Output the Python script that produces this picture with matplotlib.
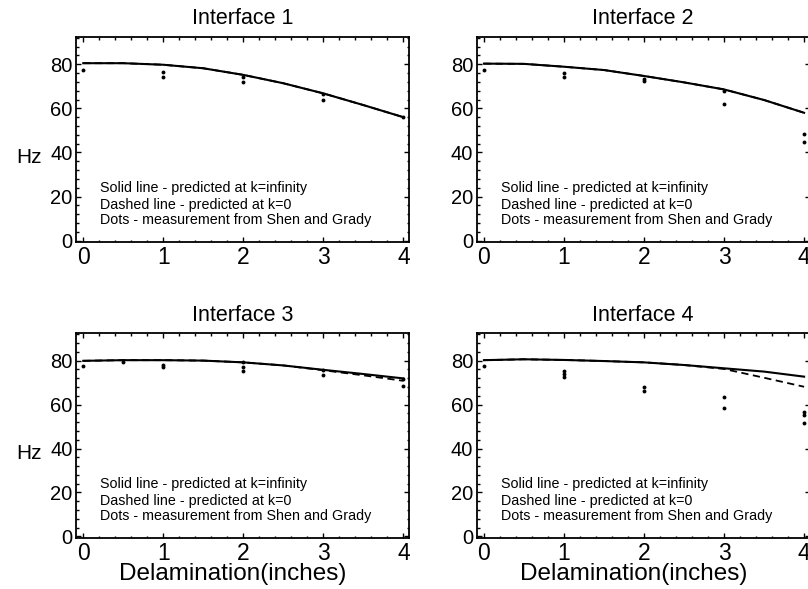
import matplotlib
matplotlib.use("Agg")
import matplotlib.pyplot as plt
from matplotlib.ticker import MultipleLocator

plt.rcParams['font.family'] = ['Liberation Sans', 'DejaVu Sans']

# delamination length (inches) where the model curves were evaluated
delam = [0, 0.5, 1, 1.5, 2, 2.5, 3, 3.5, 4]

# predicted frequency (Hz), k = infinity (solid) and k = 0 (dashed)
solid_1 = [80.5, 80.5, 79.8, 78.2, 75.2, 71.4, 66.8, 61.5, 56.0]
dashed_1 = [80.5, 80.5, 79.8, 78.2, 75.2, 71.4, 66.8, 61.5, 56.0]
solid_2 = [80.3, 80.2, 78.9, 77.4, 74.7, 71.8, 68.6, 63.8, 58.0]
dashed_2 = [80.3, 80.2, 78.9, 77.4, 74.7, 71.8, 68.6, 63.8, 58.0]
solid_3 = [79.9, 80.2, 80.2, 80.0, 79.2, 77.8, 75.8, 73.9, 71.9]
dashed_3 = [79.9, 80.2, 80.2, 80.0, 79.2, 77.8, 75.6, 73.3, 70.8]
solid_4 = [80.2, 80.6, 80.3, 79.8, 79.2, 78.0, 76.5, 75.0, 72.7]
dashed_4 = [80.2, 80.6, 80.3, 79.8, 79.2, 78.0, 76.2, 72.2, 68.1]

# measured frequencies (Shen and Grady)
meas_x_1 = [0, 1, 1, 2, 2, 3, 3, 4]
meas_y_1 = [77.4, 76.6, 74.4, 74.1, 71.8, 66.6, 64.0, 56.0]
meas_x_2 = [0, 1, 1, 2, 2, 3, 3, 4, 4]
meas_y_2 = [77.4, 76.2, 74.4, 73.5, 72.5, 68.0, 62.0, 48.5, 44.6]
meas_x_3 = [0, 0.5, 1, 1, 2, 2, 2, 3, 3, 4, 4]
meas_y_3 = [77.7, 79.2, 77.9, 77.2, 79.5, 77.2, 75.4, 75.7, 73.5, 71.5, 68.6]
meas_x_4 = [0, 1, 1, 1, 2, 2, 3, 3, 4, 4, 4]
meas_y_4 = [77.7, 75.4, 73.9, 72.7, 67.9, 66.3, 63.6, 58.3, 56.8, 55.3, 51.8]

titles = ["Interface 1", "Interface 2", "Interface 3", "Interface 4"]
notes = ["Solid line - predicted at k=infinity",
         "Dashed line - predicted at k=0",
         "Dots - measurement from Shen and Grady"]

panels = [
    (solid_1, dashed_1, meas_x_1, meas_y_1),
    (solid_2, dashed_2, meas_x_2, meas_y_2),
    (solid_3, dashed_3, meas_x_3, meas_y_3),
    (solid_4, dashed_4, meas_x_4, meas_y_4),
]

# axes boxes in figure fractions (right column runs off the page edge)
boxes = [
    [0.0941, 0.5896, 0.4121, 0.348],
    [0.5900, 0.5896, 0.4121, 0.348],
    [0.0941, 0.0874, 0.4121, 0.347],
    [0.5900, 0.0874, 0.4121, 0.347],
]

fig = plt.figure(figsize=(8.08, 5.89), dpi=100)

for i, (solid, dashed, mx, my) in enumerate(panels):
    ax = fig.add_axes(boxes[i])
    ax.plot(delam, dashed, color='black', lw=1.3, ls=(0, (4, 2.5)))
    ax.plot(delam, solid, color='black', lw=1.5)
    ax.plot(mx, my, 'o', color='black', ms=2.8, mew=0)

    ax.set_xlim(-0.09, 4.07)
    ax.set_ylim(-0.5, 92.5)
    ax.xaxis.set_major_locator(MultipleLocator(1))
    ax.xaxis.set_minor_locator(MultipleLocator(0.2))
    ax.yaxis.set_major_locator(MultipleLocator(20))
    ax.yaxis.set_minor_locator(MultipleLocator(4))
    ax.tick_params(which='both', direction='in', top=True, right=True, width=1.0)
    ax.tick_params(which='major', length=3.5)
    ax.tick_params(which='minor', length=1.8)
    ax.tick_params(axis='x', labelsize=16.5, pad=3)
    ax.tick_params(axis='y', labelsize=14.5, pad=2.5)
    for sp in ax.spines.values():
        sp.set_linewidth(1.3)

    ax.set_title(titles[i], fontsize=15.5, pad=9)

    for j, yy in enumerate([0.26, 0.18, 0.104]):
        ax.text(0.072, yy, notes[j], transform=ax.transAxes, fontsize=10.3,
                ha='left', va='center')

    if i % 2 == 0:
        ax.set_ylabel("Hz", fontsize=15, rotation=0, va='center')
        ax.yaxis.set_label_coords(-0.14, 0.41)
    if i >= 2:
        ax.set_xlabel("Delamination(inches)", fontsize=17.5, va='center')
        ax.xaxis.set_label_coords(0.471, -0.18)

fig.savefig("out.png", dpi=100)
